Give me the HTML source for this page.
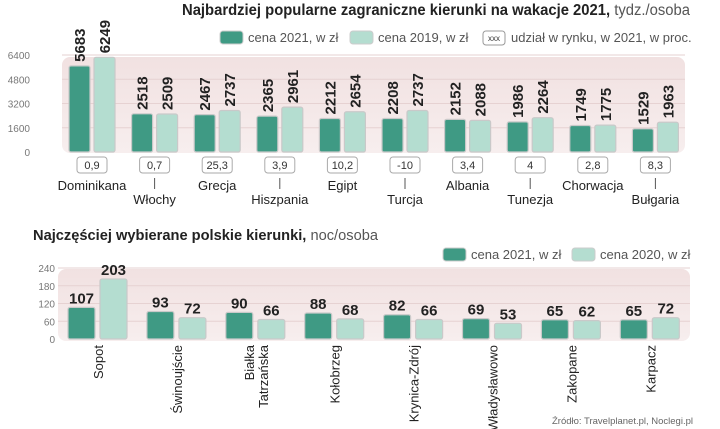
<!DOCTYPE html>
<html><head><meta charset="utf-8"><style>
body{margin:0;background:#fff;width:720px;height:429px;overflow:hidden}
svg{display:block;font-family:"Liberation Sans",sans-serif}
</style></head><body>
<svg id="c" width="720" height="429" viewBox="0 0 720 429">
<defs>
<linearGradient id="bg" x1="0" y1="0" x2="0" y2="1"><stop offset="0" stop-color="#f1e1e1"/><stop offset="1" stop-color="#f7eeee"/></linearGradient>
</defs>
<text x="182" y="15" font-size="15.5" font-weight="bold" fill="#222" textLength="508" lengthAdjust="spacingAndGlyphs">Najbardziej popularne zagraniczne  kierunki na wakacje 2021, <tspan font-weight="normal" fill="#555">tydz./osoba</tspan></text>
<g>
<rect x="220" y="31" width="23" height="13" rx="3" fill="#3f9a84" stroke="#ccc"/>
<text x="248" y="42" font-size="13" fill="#555">cena 2021, w zł</text>
<rect x="350" y="31" width="23" height="13" rx="3" fill="#b4ddd0" stroke="#ccc"/>
<text x="378" y="42" font-size="13" fill="#555">cena 2019, w zł</text>
<rect x="483" y="31" width="22" height="14" rx="3" fill="#fff" stroke="#999"/>
<text x="494" y="41" font-size="8" fill="#333" text-anchor="middle">xxx</text>
<text x="511" y="42" font-size="13" fill="#555">udział w rynku, w 2021, w proc.</text>
</g>
<rect x="62" y="57" width="623" height="96" rx="8" fill="url(#bg)"/>
<g id="top"></g>
<text x="33" y="240" font-size="15" font-weight="bold" fill="#222" textLength="345" lengthAdjust="spacingAndGlyphs">Najczęściej wybierane polskie kierunki, <tspan font-weight="normal" fill="#555">noc/osoba</tspan></text>
<g>
<rect x="443" y="248" width="23" height="13" rx="3" fill="#3f9a84" stroke="#ccc"/>
<text x="471" y="259" font-size="13" fill="#555">cena 2021, w zł</text>
<rect x="572" y="248" width="23" height="13" rx="3" fill="#b4ddd0" stroke="#ccc"/>
<text x="600" y="259" font-size="13" fill="#555">cena 2020, w zł</text>
</g>
<rect x="58" y="269" width="632" height="72" rx="8" fill="url(#bg)"/>
<g id="bot"></g>
<text x="693" y="424" font-size="9.5" fill="#666" text-anchor="end">Źródło: Travelplanet.pl, Noclegi.pl</text>
</svg>
<script>
const topCats=["Dominikana","Włochy","Grecja","Hiszpania","Egipt","Turcja","Albania","Tunezja","Chorwacja","Bułgaria"];
const top2021=[5683,2518,2467,2365,2212,2208,2152,1986,1749,1529];
const top2019=[6249,2509,2737,2961,2654,2737,2088,2264,1775,1963];
const topShare=["0,9","0,7","25,3","3,9","10,2","-10","3,4","4","2,8","8,3"];
const topTicks=[0,1600,3200,4800,6400];
const botCats=[["Sopot"],["Świnoujście"],["Białka","Tatrzańska"],["Kołobrzeg"],["Krynica-Zdrój"],["Władysławowo"],["Zakopane"],["Karpacz"]];
const bot2021=[107,93,90,88,82,69,65,65];
const bot2020=[203,72,66,68,66,53,62,72];
const botTicks=[0,60,120,180,240];
const NS="http://www.w3.org/2000/svg";
function mk(p,t,a){const e=document.createElementNS(NS,t);for(const k in a)e.setAttribute(k,a[k]);p.appendChild(e);return e;}
const T=document.getElementById('top');
const ty=v=>152-v*97/6400, tx=i=>69+i*62.6;
topTicks.forEach(v=>{
 if(v>0){const l=mk(T,'line',{x1:62,x2:685,y1:ty(v),y2:ty(v),stroke:'#e6d2d2','stroke-width':1});
 
 }
 const t=mk(T,'text',{x:30,y:ty(v)+4,'font-size':10,fill:'#777','text-anchor':'end'});t.textContent=v;
 
 
});
topCats.forEach((c,i)=>{
 const x=tx(i);
 [[top2021[i],'#3f9a84',x,'top-bar-2021'],[top2019[i],'#b4ddd0',x+25,'top-bar-2019']].forEach(([v,col,bx,nm])=>{
  const r=mk(T,'rect',{x:bx,y:ty(v),width:21,height:152-ty(v),rx:2,fill:col,stroke:'#c9c9c9','stroke-width':1.2});
  
  
  const t=mk(T,'text',{transform:`translate(${bx+16},${ty(v)-4}) rotate(-90)`,'font-size':15,'font-weight':'bold',fill:'#222'});
  t.textContent=v;
  
  
 });
 const cx=x+23;
 const b=mk(T,'rect',{x:cx-15,y:157,width:30,height:16,rx:3,fill:'#fff',stroke:'#aaa'});
 
 
 const s=mk(T,'text',{x:cx,y:169,'font-size':11,fill:'#333','text-anchor':'middle'});s.textContent=topShare[i];
 
 
 const ly=i%2===0?190:204;
 if(i%2===1){const l=mk(T,'line',{x1:cx,x2:cx,y1:178,y2:189,stroke:'#555'});
  
  }
 const n=mk(T,'text',{x:cx,y:ly,'font-size':13,fill:'#222','text-anchor':'middle'});n.textContent=c;
 
 
});
const B=document.getElementById('bot');
const by=v=>339-v*71/240, bx=i=>68+i*78.9;
botTicks.forEach(v=>{
 if(v>0){const l=mk(B,'line',{x1:58,x2:690,y1:by(v),y2:by(v),stroke:'#e6d2d2','stroke-width':1});
 
 }
 const t=mk(B,'text',{x:55,y:by(v)+4,'font-size':10,fill:'#777','text-anchor':'end'});t.textContent=v;
 
 
});
botCats.forEach((c,i)=>{
 const x=bx(i);
 [[bot2021[i],'#3f9a84',x,'bottom-bar-2021'],[bot2020[i],'#b4ddd0',x+32,'bottom-bar-2020']].forEach(([v,col,xx,nm])=>{
  const r=mk(B,'rect',{x:xx,y:by(v),width:27,height:339-by(v),rx:2,fill:col,stroke:'#c9c9c9','stroke-width':1.2});
  
  
  const t=mk(B,'text',{x:xx+13.5,y:by(v)-4,'font-size':15,'font-weight':'bold',fill:'#222','text-anchor':'middle'});
  t.textContent=v;
  
  
 });
 const cx=x+30;
 c.forEach((line,k)=>{
  const off=(k-(c.length-1)/2)*14;
  const n=mk(B,'text',{transform:`translate(${cx+off+5},345) rotate(-90)`,'font-size':13,fill:'#222','text-anchor':'end'});
  n.textContent=line;
  
  
 });
});
</script>
</body></html>
